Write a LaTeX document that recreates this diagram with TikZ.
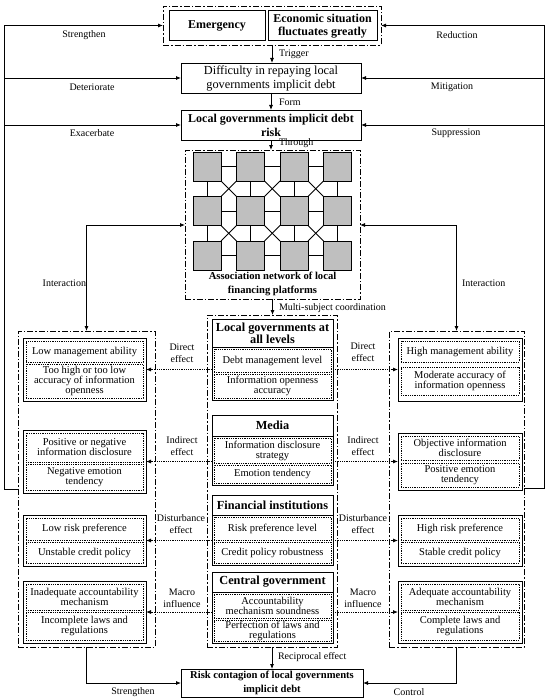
\documentclass[tikz,border=0pt]{standalone}
\usepackage{fontspec}
\setmainfont{Liberation Serif}
\usetikzlibrary{arrows.meta}
\definecolor{sqgray}{RGB}{191,191,191}
\newcommand\mybox[7]{\node[#1, minimum width={(#5-#3)*1pt}, minimum height={(#6-#4)*1pt}] (#2) at ({(#3+#5)/2},{(#4+#6)/2}) {#7};}
\tikzset{
 every node/.style={inner sep=0pt, outer sep=0pt},
 solidbox/.style={draw, line width=0.8pt, align=center},
 topbox/.style={draw, line width=1pt, align=center},
 dotbox/.style={draw, densely dotted, line width=0.8pt, align=center, font=\fontsize{10.5}{10}\selectfont},
 grpbox/.style={draw, line width=0.8pt, dash pattern=on 6pt off 2pt on 1.5pt off 2pt},
 ttl/.style={align=center, font=\bfseries\fontsize{12.3}{12}\selectfont},
 lbl/.style={align=center, font=\fontsize{10}{12}\selectfont},
 arr/.style={line width=0.8pt, -{Latex[length=5pt,width=4pt]}},
 darr/.style={line width=0.8pt, densely dotted, -{Latex[length=5pt,width=4pt]}},
 biarr/.style={line width=0.8pt, {Latex[length=5pt,width=4pt]}-{Latex[length=5pt,width=4pt]}},
 sq/.style={draw, fill=sqgray, line width=0.8pt},
}
\begin{document}
\begin{tikzpicture}[x=1pt,y=-1pt]
\useasboundingbox[fill=white] (0,0) rectangle (550,698);
% top
\mybox{grpbox}{topgrp}{163}{6}{381}{45}{}
\mybox{topbox,font=\bfseries\fontsize{12}{13}\selectfont}{emerg}{169}{11}{265}{41}{Emergency}
\mybox{topbox,font=\bfseries\fontsize{12}{13}\selectfont}{econ}{268}{11}{377}{41}{Economic situation\\fluctuates greatly}
\mybox{solidbox,font=\fontsize{12.3}{14}\selectfont}{diff}{181}{63}{361}{93}{Difficulty in repaying local\\governments implicit debt}
\mybox{solidbox,font=\bfseries\fontsize{12}{14}\selectfont}{risk}{181}{110}{361}{140}{Local governments implicit debt\\risk}
% network
\mybox{grpbox}{net}{185}{150}{360}{299}{}
\foreach \c/\cx in {1/207,2/250.5,3/294,4/337.5}
 \foreach \r/\cy in {1/166.5,2/211,3/255.5}
  {\node[sq, minimum width=28pt, minimum height=29pt] (s\r\c) at (\cx,\cy) {};}
\foreach \r in {1,2,3}
 \foreach \c/\d in {1/2,2/3,3/4}
  {\draw[line width=0.8pt] (s\r\c.east) -- (s\r\d.west);}
\foreach \r/\s in {1/2,2/3}
 \foreach \c in {1,2,3,4}
  {\draw[line width=0.8pt] (s\r\c.south) -- (s\s\c.north);}
\foreach \r/\s in {1/2,2/3}
 \foreach \c/\d in {1/2,2/3,3/4}
  {\draw[line width=0.8pt] (s\r\c.south east) -- (s\s\d.north west);
   \draw[line width=0.8pt] (s\r\d.south west) -- (s\s\c.north east);}
\node[align=center, font=\bfseries\fontsize{10.6}{14}\selectfont] (netlbl) at (272.5,284) {Association network of local\\financing platforms};
% center column
\mybox{grpbox}{cgrp}{207}{315}{337}{647}{}
\mybox{solidbox}{lg}{212}{319}{333}{400}{}
\mybox{solidbox,ttl}{lgt}{212}{319}{333}{347}{Local governments at\\all levels}
\mybox{dotbox}{lga}{214}{349}{331}{372}{Debt management level}
\mybox{dotbox}{lgb}{214}{374}{331}{398}{Information openness\\accuracy}
\mybox{solidbox}{med}{212}{415}{333}{485}{}
\mybox{solidbox,ttl}{medt}{212}{415}{333}{436}{Media}
\mybox{dotbox}{meda}{214}{438}{331}{463}{Information disclosure\\strategy}
\mybox{dotbox}{medb}{214}{465}{331}{483}{Emotion tendency}
\mybox{solidbox}{fin}{212}{495}{333}{565}{}
\mybox{solidbox,ttl}{fint}{212}{495}{333}{515}{Financial institutions}
\mybox{dotbox}{fina}{214}{517}{331}{540}{Risk preference level}
\mybox{dotbox}{finb}{214}{542}{331}{563}{Credit policy robustness}
\mybox{solidbox}{cen}{212}{572}{333}{643}{}
\mybox{solidbox,ttl}{cent}{212}{572}{333}{592}{Central government}
\mybox{dotbox}{cena}{214}{594}{331}{618}{Accountability\\mechanism soundness}
\mybox{dotbox}{cenb}{214}{620}{331}{641}{Perfection of laws and\\regulations}
% left column
\mybox{grpbox}{lgrp}{18}{331}{155}{647}{}
\mybox{solidbox}{L1}{23}{338}{146}{401}{}
\mybox{dotbox}{L1a}{26}{341}{143}{362}{Low management ability}
\mybox{dotbox}{L1b}{26}{364}{143}{398}{Too high or too low\\accuracy of information\\openness}
\mybox{solidbox}{L2}{23}{430}{146}{493}{}
\mybox{dotbox}{L2a}{26}{433}{143}{462}{Positive or negative\\information disclosure}
\mybox{dotbox}{L2b}{26}{464}{143}{490}{Negative emotion\\tendency}
\mybox{solidbox}{L3}{23}{515}{146}{566}{}
\mybox{dotbox}{L3a}{26}{518}{143}{540}{Low risk preference}
\mybox{dotbox}{L3b}{26}{542}{143}{563}{Unstable credit policy}
\mybox{solidbox}{L4}{23}{581}{146}{643}{}
\mybox{dotbox}{L4a}{26}{584}{143}{610}{Inadequate accountability\\mechanism}
\mybox{dotbox}{L4b}{26}{612}{143}{640}{Incomplete laws and\\regulations}
% right column
\mybox{grpbox}{rgrp}{389}{331}{524}{647}{}
\mybox{solidbox}{R1}{398}{338}{522}{401}{}
\mybox{dotbox}{R1a}{401}{341}{519}{362}{High management ability}
\mybox{dotbox}{R1b}{401}{367}{519}{395}{Moderate accuracy of\\information openness}
\mybox{solidbox}{R2}{398}{433}{522}{490}{}
\mybox{dotbox}{R2a}{401}{436}{519}{460}{Objective information\\disclosure}
\mybox{dotbox}{R2b}{401}{463}{519}{487}{Positive emotion\\tendency}
\mybox{solidbox}{R3}{398}{515}{522}{566}{}
\mybox{dotbox}{R3a}{401}{518}{519}{540}{High risk preference}
\mybox{dotbox}{R3b}{401}{542}{519}{563}{Stable credit policy}
\mybox{solidbox}{R4}{398}{581}{522}{643}{}
\mybox{dotbox}{R4a}{401}{584}{519}{610}{Adequate accountability\\mechanism}
\mybox{dotbox}{R4b}{401}{612}{519}{640}{Complete laws and\\regulations}
% bottom
\mybox{solidbox,font=\bfseries\fontsize{10.6}{14.5}\selectfont}{bot}{181}{669}{363}{697}{Risk contagion of local governments\\implicit debt}
% outer feedback lines
\coordinate (L) at (4,489);
\coordinate (R) at (544,488);
\draw[arr] (lgrp.west |- L) -- (L) -- (L |- topgrp.west) -- (topgrp.west);
\draw[arr] (L |- diff.west) -- (diff.west);
\draw[arr] (L |- risk.west) -- (risk.west);
\draw[arr] (rgrp.east |- R) -- (R) -- (R |- topgrp.east) -- (topgrp.east);
\draw[arr] (R |- diff.east) -- (diff.east);
\draw[arr] (R |- risk.east) -- (risk.east);
\node[lbl] (t1) at (84,35) {Strengthen};
\node[lbl] (t2) at (92,87) {Deteriorate};
\node[lbl] (t3) at (92,133) {Exacerbate};
\node[lbl] (t4) at (457,35) {Reduction};
\node[lbl] (t5) at (452,87) {Mitigation};
\node[lbl] (t6) at (456,133) {Suppression};
% main vertical flow
\draw[arr] (topgrp.south) -- (topgrp.south |- diff.north);
\draw[arr] (diff.south) -- (diff.south |- risk.north);
\draw[arr] (risk.south) -- (risk.south |- net.north);
\draw[arr] (net.south) -- (net.south |- cgrp.north);
\draw[arr] (cgrp.south) -- (cgrp.south |- bot.north);
\node[lbl, anchor=west] (v1) at (279,54) {Trigger};
\node[lbl, anchor=west] (v2) at (279,102) {Form};
\node[lbl, anchor=west] (v3) at (279,143.5) {Through};
\node[lbl, anchor=west] (v4) at (279,308) {Multi-subject coordination};
\node[lbl, anchor=west] (v5) at (278,657) {Reciprocal effect};
% interaction
\coordinate (IL) at (87,225);
\coordinate (IR) at (457,225);
\draw[biarr] (lgrp.north) -- (lgrp.north |- IL) -- (net.west |- IL);
\draw[biarr] (rgrp.north) -- (rgrp.north |- IR) -- (net.east |- IR);
\node[lbl, anchor=east] (i1) at (86,283) {Interaction};
\node[lbl, anchor=west] (i2) at (462,283) {Interaction};
% effects
\draw[darr] (lg.west |- L1.east) -- (L1.east);
\draw[darr] (lg.east |- R1.west) -- (R1.west);
\draw[darr] (med.west |- L2.east) -- (L2.east);
\draw[darr] (med.east |- R2.west) -- (R2.west);
\draw[darr] (fin.west |- L3.east) -- (L3.east);
\draw[darr] (fin.east |- R3.west) -- (R3.west);
\draw[darr] (cen.west |- L4.east) -- (L4.east);
\draw[darr] (cen.east |- R4.west) -- (R4.west);
\node[lbl] (e1) at (182,353) {Direct\\effect};
\node[lbl] (e2) at (363,352) {Direct\\effect};
\node[lbl] (e3) at (182,446) {Indirect\\effect};
\node[lbl] (e4) at (363,446) {Indirect\\effect};
\node[lbl] (e5) at (181,524) {Disturbance\\effect};
\node[lbl] (e6) at (363,524) {Disturbance\\effect};
\node[lbl] (e7) at (182,598) {Macro\\influence};
\node[lbl] (e8) at (363,598) {Macro\\influence};
% bottom connections
\draw[arr] (lgrp.south) -- (lgrp.south |- bot.west) -- (bot.west);
\draw[arr] (rgrp.south) -- (rgrp.south |- bot.east) -- (bot.east);
\node[lbl] (b1) at (133,692) {Strengthen};
\node[lbl] (b2) at (409,692) {Control};
\end{tikzpicture}
\end{document}
